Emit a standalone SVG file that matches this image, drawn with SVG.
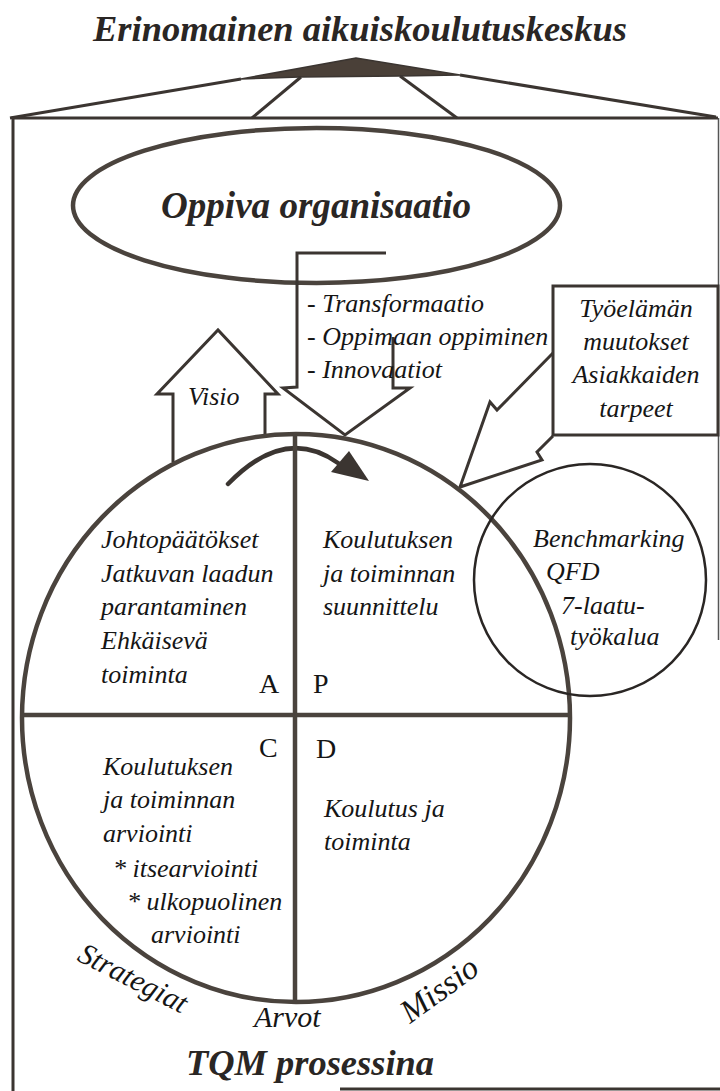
<svg xmlns="http://www.w3.org/2000/svg" width="720" height="1091" viewBox="0 0 720 1091">
<style>
.ln{fill:none;stroke:#3b3531;stroke-width:3;stroke-linejoin:miter}
.thk{fill:none;stroke:#4a433d;stroke-width:4.5}
.it{font-family:"Liberation Serif","Times New Roman",serif;font-style:italic;font-size:26px;fill:#151515}
.big{font-size:30px}
.big2{font-size:33px}
.up{font-family:"Liberation Serif","Times New Roman",serif;font-size:28px;fill:#151515}
.bi{font-family:"Liberation Serif","Times New Roman",serif;font-style:italic;font-weight:bold;fill:#2a2624}
.mid{text-anchor:middle}
</style>
<rect width="720" height="1091" fill="#ffffff"/>
<g id="title">
<text class="bi" x="93" y="41" font-size="36" textLength="534" lengthAdjust="spacingAndGlyphs">Erinomainen aikuiskoulutuskeskus</text>
</g>
<g id="frame">
<polygon points="241,79 356,58 460,75 400,76 300,77" fill="#4a4038" stroke="#3b3531" stroke-width="1.5"/>
<polyline class="ln" points="10,118 241,79"/>
<polyline class="ln" points="460,75 716,117"/>
<line class="ln" x1="301" y1="77" x2="252" y2="118"/>
<line class="ln" x1="400" y1="76" x2="457" y2="118"/>
<path class="ln" d="M13,1091 V118 H718"/>
<line x1="718.5" y1="118" x2="718.5" y2="640" stroke="#555" stroke-width="1.5"/>
<line class="ln" x1="340" y1="1089" x2="720" y2="1089"/>
</g>
<g id="oppiva">
<ellipse class="thk" cx="316.5" cy="205.5" rx="243.5" ry="77.5"/>
<text class="bi" x="161" y="218" font-size="38" textLength="310" lengthAdjust="spacingAndGlyphs">Oppiva organisaatio</text>
</g>
<g id="connectors">
<polyline class="ln" points="386,253 297,253 297,387 283,388 345,435 410,388 393,388 393,337"/>
<polyline class="ln" points="173,462 173,394 157,394 218,330 278,394 265,394 265,437"/>
<polyline class="ln" points="553,353 497,410 490,402 460,487 542,460 537,452 553,436"/>
<path d="M228,484 Q285,425 338,463" fill="none" stroke="#3b3531" stroke-width="4.5" stroke-linecap="round"/>
<polygon points="331,472 349,451 369,481" fill="#3b3531"/>
</g>
<g id="arrow-texts">
<text class="it" x="307" y="312">- Transformaatio</text>
<text class="it" x="307" y="345">- Oppimaan oppiminen</text>
<text class="it" x="307" y="378">- Innovaatiot</text>
<text class="it" x="188" y="405">Visio</text>
</g>
<g id="tyoelama">
<rect class="ln" x="553" y="286" width="165" height="149" fill="#fff"/>
<text class="it mid" x="636" y="317">Työelämän</text>
<text class="it mid" x="636" y="350">muutokset</text>
<text class="it mid" x="636" y="383">Asiakkaiden</text>
<text class="it mid" x="636" y="417">tarpeet</text>
</g>
<g id="pdca">
<ellipse class="thk" cx="296" cy="718" rx="274" ry="284"/>
<line class="thk" x1="295" y1="434" x2="295" y2="1003"/>
<line class="thk" x1="22" y1="715" x2="571" y2="715"/>
<text class="up" x="259" y="693">A</text>
<text class="up" x="313" y="693">P</text>
<text class="up" x="259" y="757">C</text>
<text class="up" x="316" y="758">D</text>
</g>
<g id="act">
<text class="it" x="101" y="548">Johtopäätökset</text>
<text class="it" x="101" y="582">Jatkuvan laadun</text>
<text class="it" x="101" y="615">parantaminen</text>
<text class="it" x="101" y="649">Ehkäisevä</text>
<text class="it" x="101" y="683">toiminta</text>
</g>
<g id="plan">
<text class="it" x="323" y="548">Koulutuksen</text>
<text class="it" x="323" y="582">ja toiminnan</text>
<text class="it" x="323" y="615">suunnittelu</text>
</g>
<g id="check">
<text class="it" x="103" y="775">Koulutuksen</text>
<text class="it" x="103" y="808">ja toiminnan</text>
<text class="it" x="103" y="842">arviointi</text>
<text class="it" x="113" y="877">* itsearviointi</text>
<text class="it" x="127" y="910">* ulkopuolinen</text>
<text class="it" x="151" y="943">arviointi</text>
</g>
<g id="do">
<text class="it" x="324" y="817">Koulutus ja</text>
<text class="it" x="324" y="850">toiminta</text>
</g>
<g id="benchmarking">
<circle cx="590" cy="580" r="116" fill="none" stroke="#2a2624" stroke-width="2.5"/>
<text class="it" x="533" y="547">Benchmarking</text>
<text class="it" x="546" y="580">QFD</text>
<text class="it" x="561" y="614">7-laatu-</text>
<text class="it" x="570" y="645">työkalua</text>
</g>
<g id="labels">
<text class="it big" transform="translate(76,960) rotate(27)">Strategiat</text>
<text class="it big" x="254" y="1027">Arvot</text>
<text class="it big2" transform="translate(410,1024) rotate(-36)">Missio</text>
<text class="bi" x="186" y="1075" font-size="36" textLength="248" lengthAdjust="spacingAndGlyphs">TQM prosessina</text>
</g>
</svg>
